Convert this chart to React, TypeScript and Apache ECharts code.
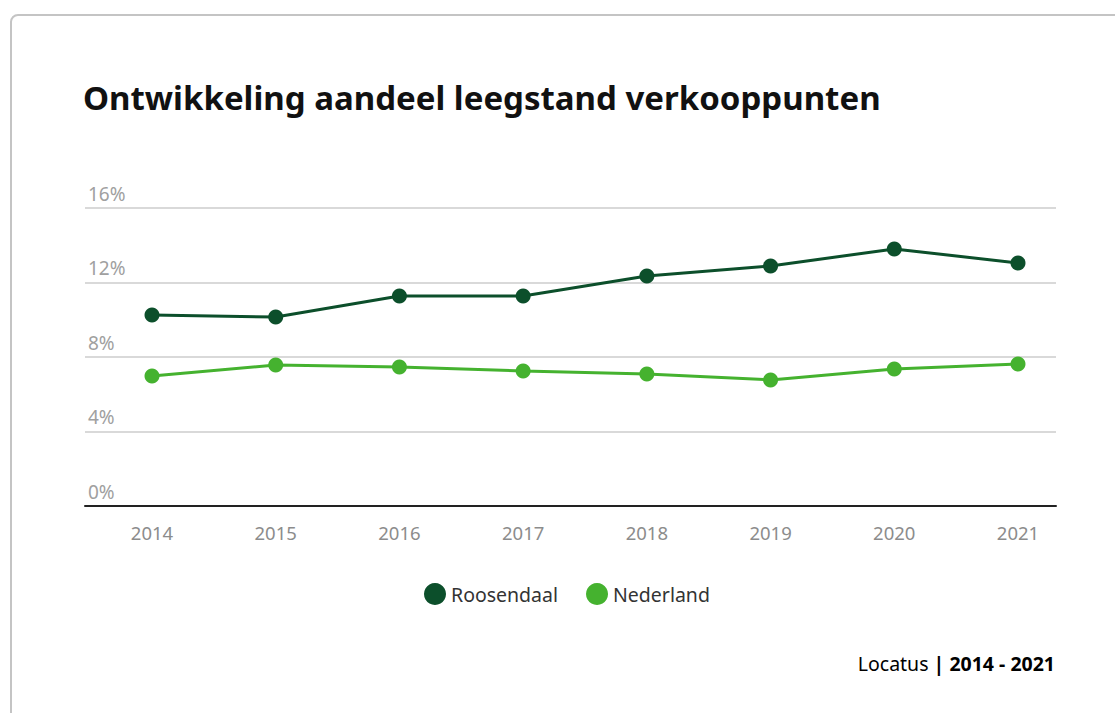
import React, { useEffect, useRef } from "react";
import * as echarts from "echarts";

const years = ["2014", "2015", "2016", "2017", "2018", "2019", "2020", "2021"];
const roosendaal = [10.25, 10.15, 11.28, 11.28, 12.35, 12.89, 13.8, 13.05];
const nederland = [6.98, 7.57, 7.46, 7.25, 7.09, 6.77, 7.36, 7.62];
const yTicks = { min: 0, max: 16, interval: 4 };

const FONT = "'Noto Sans', 'Open Sans', sans-serif";

export default function App() {
  const ref = useRef<HTMLDivElement>(null);
  useEffect(() => {
    if (!ref.current) return;
    const chart = echarts.init(ref.current, null, { renderer: "svg" });
    chart.setOption({
      animation: false,
      textStyle: { fontFamily: FONT },
      title: {
        text: "Ontwikkeling aandeel leegstand verkooppunten",
        left: 78,
        top: 76,
        textStyle: { fontSize: 33, fontWeight: "bold", color: "#111", fontFamily: FONT },
      },
      legend: {
        data: [
          { name: "Roosendaal", icon: "circle" },
          { name: "Nederland", icon: "circle" },
        ],
        left: 419,
        top: 578,
        itemWidth: 22,
        itemHeight: 22,
        itemGap: 28,
        textStyle: { fontSize: 19.5, color: "#333", fontFamily: FONT },
      },
      grid: [
        { left: 85, right: 59, top: 208, bottom: 207 },
        { left: 152, right: 97, top: 208, bottom: 207 },
      ],
      xAxis: [
        {
          gridIndex: 0,
          type: "value",
          min: 0,
          max: 1,
          axisLine: { show: true, lineStyle: { color: "#222", width: 2 } },
          axisTick: { show: false },
          axisLabel: { show: false },
          splitLine: { show: false },
        },
        {
          gridIndex: 1,
          type: "category",
          boundaryGap: false,
          data: years,
          axisLine: { show: false },
          axisTick: { show: false },
          axisLabel: { color: "#8c8c8c", fontSize: 18.5, margin: 17, fontFamily: FONT },
        },
      ],
      yAxis: [
        {
          gridIndex: 0,
          type: "value",
          ...yTicks,
          axisLine: { show: false },
          axisTick: { show: false },
          axisLabel: {
            inside: true,
            margin: 3,
            verticalAlign: "bottom",
            padding: [0, 0, 5, 0],
            color: "#a0a0a0",
            fontSize: 19,
            fontFamily: FONT,
            formatter: (v: number) => v + "%",
          },
          splitLine: { show: true, lineStyle: { color: "#d9d9d9", width: 2 } },
        },
        {
          gridIndex: 1,
          type: "value",
          ...yTicks,
          show: false,
          splitLine: { show: false },
        },
      ],
      series: [
        {
          name: "Roosendaal",
          type: "line",
          xAxisIndex: 1,
          yAxisIndex: 1,
          data: roosendaal,
          symbol: "circle",
          symbolSize: 15,
          itemStyle: { color: "#0c4f2b" },
          lineStyle: { color: "#0c4f2b", width: 3 },
        },
        {
          name: "Nederland",
          type: "line",
          xAxisIndex: 1,
          yAxisIndex: 1,
          data: nederland,
          symbol: "circle",
          symbolSize: 15,
          itemStyle: { color: "#45b22f" },
          lineStyle: { color: "#45b22f", width: 3 },
        },
      ],
      graphic: [
        {
          type: "text",
          right: 60,
          top: 653,
          style: {
            text: "{a|Locatus }{b|| 2014 - 2021}",
            rich: {
              a: { fontSize: 19.5, color: "#333", fontFamily: FONT },
              b: { fontSize: 19.5, color: "#111", fontWeight: "bold", fontFamily: FONT },
            },
          },
        },
      ],
    });
    return () => chart.dispose();
  }, []);

  return (
    <div style={{ position: "fixed", left: 0, top: 0, width: 1115, height: 713, overflow: "hidden", background: "#fff" }}>
      <div
        style={{
          position: "absolute",
          left: 10,
          top: 14,
          width: 1300,
          height: 900,
          border: "2px solid #c4c4c4",
          borderRadius: 8,
          boxSizing: "border-box",
        }}
      />
      <div ref={ref} style={{ position: "absolute", left: 0, top: 0, width: 1115, height: 713 }} />
    </div>
  );
}
